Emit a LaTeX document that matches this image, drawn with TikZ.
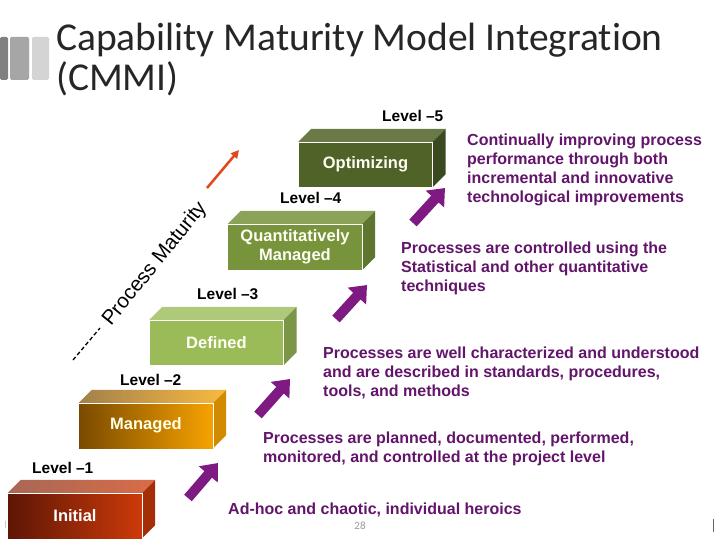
\documentclass[tikz,border=0pt]{standalone}
\usepackage{fontspec}
\setmainfont{Liberation Sans}
\newfontfamily\titlefont[Ligatures=NoCommon]{Carlito}
\usepackage{tikz}
\usetikzlibrary{arrows.meta}
\definecolor{cmmiPurple}{HTML}{7E1A82}
\definecolor{cmmiText}{HTML}{62156A}
\definecolor{cmmiRed}{HTML}{E0481C}
\definecolor{iniDark}{HTML}{5E1605}
\definecolor{iniLight}{HTML}{CC3A0A}
\definecolor{manDark}{HTML}{7A4A00}
\definecolor{manLight}{HTML}{F7A200}
\definecolor{defGreen}{HTML}{9BBB59}
\definecolor{quaGreen}{HTML}{77933C}
\definecolor{optGreen}{HTML}{4F6228}
% top and side faces of a level block
\newcommand{\cubefaces}[3]{%
  \path[#2] (#1.north west) -- ++(13,-13) -- ([shift={(13,-13)}]#1.north east)
    -- (#1.north east) -- cycle;
  \path[#3] (#1.north east) -- ++(13,-13) -- ([shift={(13,-13)}]#1.south east)
    -- (#1.south east) -- cycle;
}
\tikzset{
  cubefront/.style={minimum width=134pt,minimum height=45pt,inner sep=0pt,
    align=center,font=\bfseries\fontsize{16.5}{19.5}\selectfont},
  cubeedge/.style={draw=white!55,line width=0.5pt},
  levellabel/.style={anchor=base west,inner sep=0pt,
    font=\bfseries\fontsize{15.5}{18}\selectfont},
  desc/.style={anchor=north west,inner sep=0pt,align=left,text=cmmiText,
    font=\bfseries\fontsize{16}{19}\selectfont},
  uparrow/.style={-{Triangle[length=15pt,width=24pt]},line width=10pt,draw=cmmiPurple},
  redarrow/.style={-{Triangle[length=8pt,width=8pt]},line width=2.5pt,draw=cmmiRed}
}
\begin{document}
\begin{tikzpicture}[x=1pt,y=-1pt]
  \useasboundingbox (0,0) rectangle (720,540);
  \fill[white] (0,0) rectangle (720,540);

  % slide title
  \fill[black!50,rounded corners=1.5pt] (0,37) rectangle (8,80);
  \fill[black!35,rounded corners=1.5pt] (10,37) rectangle (29,80);
  \fill[black!17,rounded corners=1.5pt] (32,37) rectangle (49,80);
  \node[anchor=north west,inner sep=0pt,align=left,text=black!85,
    font=\titlefont\fontsize{39.5}{40}\selectfont] (title) at (56,23)
    {Capability Maturity Model Integration\\(CMMI)};

  % level blocks
  \node[cubefront,left color=iniDark,right color=iniLight,text=white] (initial) at (75,515.5) {Initial};
  \cubefaces{initial}{left color=iniDark!60!white!80!iniLight,right color=iniLight!75!white}{fill=iniLight!80!black}
  \node[cubefront,left color=manDark,right color=manLight,text=yellow!10] (managed) at (146,425.5) {Managed};
  \cubefaces{managed}{left color=manDark!70!white,right color=manLight!75!white}{fill=manLight!85!black}
  \node[cubefront,fill=defGreen,text=white!95!yellow] (defined) at (216.5,342.5) {Defined};
  \cubefaces{defined}{fill=defGreen!80!white}{fill=defGreen!80!black}
  \node[cubefront,fill=quaGreen,text=white!95!yellow,minimum height=46pt] (quant) at (295,247) {Quantitatively\\Managed};
  \cubefaces{quant}{fill=quaGreen!85!white}{fill=quaGreen!80!black}
  \node[cubefront,fill=optGreen,text=white!95!yellow] (optim) at (365.5,164.5) {Optimizing};
  \cubefaces{optim}{fill=optGreen!85!white}{fill=optGreen!75!black}
  \foreach \b in {initial,managed,defined,quant,optim}
    \draw[cubeedge] (\b.north west) -- (\b.north east) -- (\b.south east);

  % level labels
  \node[levellabel] (lvl1) at (32,473) {Level –1};
  \node[levellabel] (lvl2) at (120,385) {Level –2};
  \node[levellabel] (lvl3) at (197,299) {Level –3};
  \node[levellabel] (lvl4) at (280,204) {Level –4};
  \node[levellabel] (lvl5) at (382,122) {Level –5};

  % descriptions
  \node[desc] (desc1) at (228,503) {Ad-hoc and chaotic, individual heroics};
  \node[desc] (desc2) at (263,432) {Processes are planned, documented, performed,\\monitored, and controlled at the project level};
  \node[desc] (desc3) at (323,347) {Processes are well characterized and understood\\and are described in standards, procedures,\\tools, and methods};
  \node[desc] (desc4) at (401,242) {Processes are controlled using the\\Statistical and other quantitative\\techniques};
  \node[desc] (desc5) at (467,134) {Continually improving process\\performance through both\\incremental and innovative\\technological improvements};

  % step arrows
  \coordinate (up1s) at (188,498); \coordinate (up1e) at (218,463);
  \coordinate (up2s) at (258,415); \coordinate (up2e) at (290,379);
  \coordinate (up3s) at (336,319); \coordinate (up3e) at (367,285);
  \coordinate (up4s) at (413,223); \coordinate (up4e) at (445,188);
  \foreach \i in {1,...,4}
    \draw[uparrow] (up\i s) -- (up\i e);

  % maturity axis
  \coordinate (axs) at (73,360); \coordinate (axm) at (100,328);
  \coordinate (ars) at (207,188); \coordinate (are) at (239,150);
  \draw[line width=1.3pt,dash pattern=on 4pt off 2.5pt] (axs) -- (axm);
  \node[rotate=51,inner sep=0pt,font=\fontsize{20.5}{24}\selectfont] (pm) at (155,264) {Process Maturity};
  \draw[redarrow] (ars) -- (are);

  % footer
  \node[text=black!40,font=\titlefont\fontsize{11}{12}\selectfont] (page) at (360,526) {28};
  \draw[black!60,line width=1pt] (713,519) -- (713,532);
  \draw[black!20,line width=0.8pt] (5,521) -- (5,528);
\end{tikzpicture}
\end{document}
